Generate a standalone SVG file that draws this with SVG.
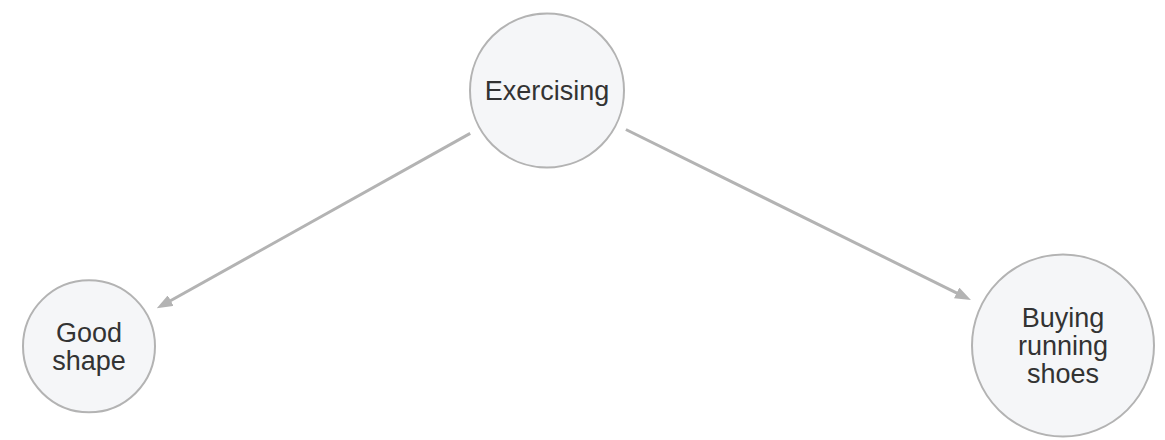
<svg xmlns="http://www.w3.org/2000/svg" width="1165" height="440" viewBox="0 0 1165 440">
<style>
.node circle{fill:#f5f6f8;stroke:#b3b3b3;stroke-width:2}
.node text{font-family:"Liberation Sans",Arial,sans-serif;font-size:27px;fill:#333;text-anchor:middle}
.edge{stroke:#b3b3b3;stroke-width:3;fill:none;marker-end:url(#arr)}
</style>
<defs>
<marker id="arr" markerUnits="userSpaceOnUse" markerWidth="16" markerHeight="12" refX="6" refY="6" orient="auto">
<path d="M0,0 L16,6 L0,12 z" fill="#b3b3b3"/>
</marker>
</defs>
<rect width="1165" height="440" fill="#fff"/>
<g id="connectors">
<line class="edge" x1="470.2" y1="133.4" x2="165.5" y2="303.5"/>
<line class="edge" x1="625.9" y1="129.5" x2="962" y2="295.6"/>
</g>
<g id="exercising" class="node">
<circle cx="547" cy="90.5" r="77"/>
<text x="547" y="100">Exercising</text>
</g>
<g id="good-shape" class="node">
<circle cx="89" cy="346.3" r="66"/>
<text x="89" y="341.5">Good</text>
<text x="89" y="369.5">shape</text>
</g>
<g id="buying-running-shoes" class="node">
<circle cx="1063" cy="345.5" r="91"/>
<text x="1063" y="326.5">Buying</text>
<text x="1063" y="354.5">running</text>
<text x="1063" y="382.5">shoes</text>
</g>
</svg>
